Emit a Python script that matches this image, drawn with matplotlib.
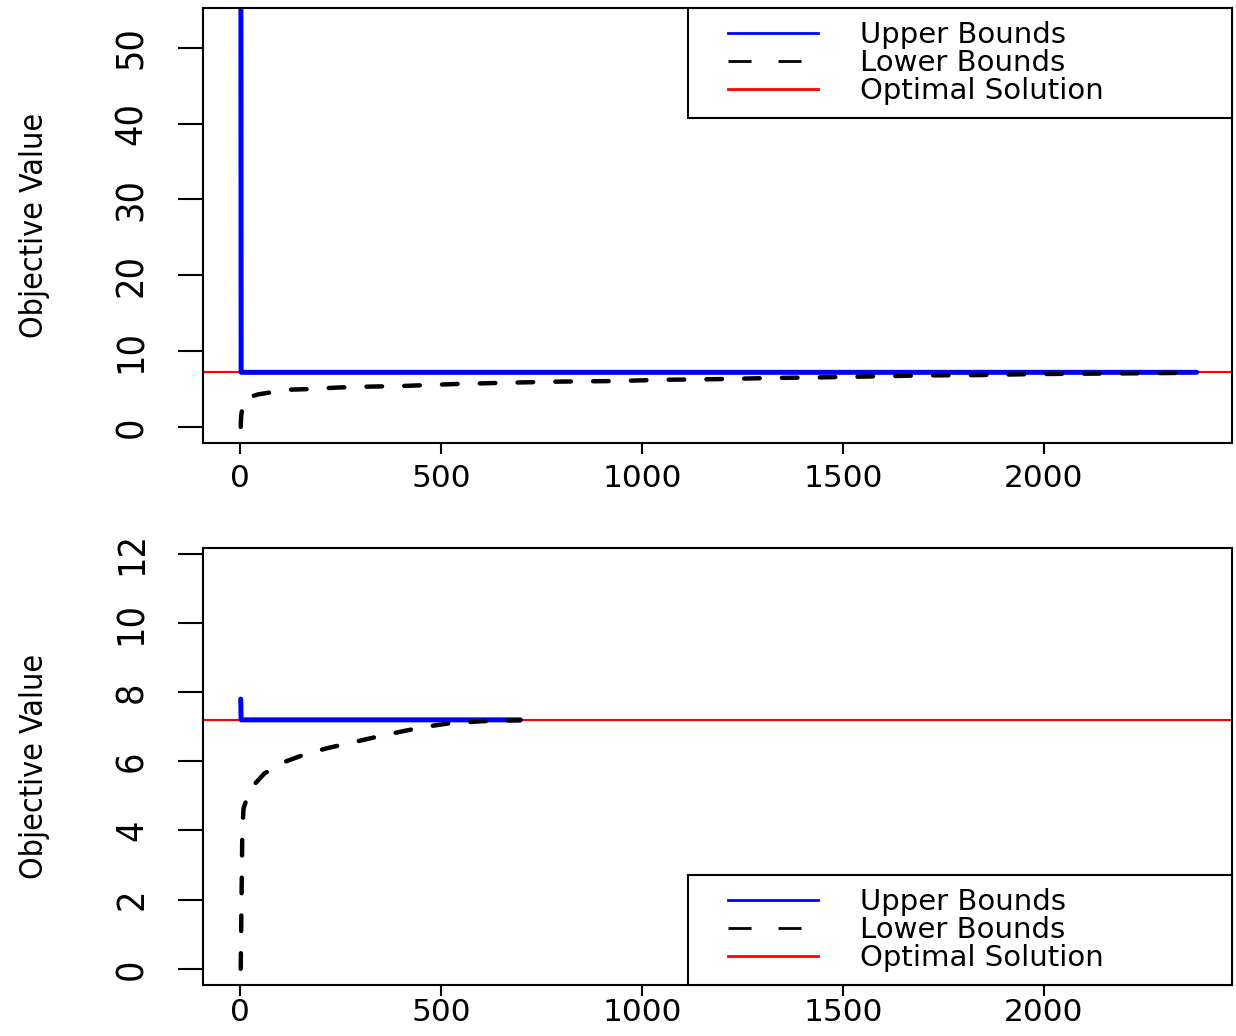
import matplotlib
matplotlib.use('Agg')
import matplotlib.pyplot as plt
from matplotlib.lines import Line2D
from matplotlib.legend_handler import HandlerLine2D

# ---------------- data ----------------
optimal_value = 7.2

top_ub_iter = [1, 2, 2380]
top_ub_val = [100.0, 7.2, 7.2]
top_lb_iter = [1, 2, 7, 20, 45, 117, 174, 244, 306, 404, 535, 665, 796, 928,
               1057, 1186, 1318, 1450, 1580, 1709, 1841, 1973, 2100, 2231, 2380]
top_lb_val = [0.0, 1.4, 3.3, 3.9, 4.3, 4.9, 5.0, 5.2, 5.3, 5.4, 5.66, 5.83, 5.98, 6.05,
              6.22, 6.3, 6.45, 6.54, 6.67, 6.8, 6.84, 6.97, 7.02, 7.07, 7.15]

bot_ub_iter = [1, 2, 697]
bot_ub_val = [7.8, 7.2, 7.2]
bot_lb_iter = [1, 3, 5, 8, 20, 37, 60, 107, 160, 216, 280, 336, 400, 455, 520, 600, 697]
bot_lb_val = [0.0, 2.0, 4.0, 4.64, 5.05, 5.36, 5.65, 5.97, 6.2, 6.38, 6.55, 6.70, 6.86,
              6.99, 7.1, 7.16, 7.19]

x_ticks = [0, 500, 1000, 1500, 2000]
top_y_ticks = [0, 10, 20, 30, 40, 50]
bot_y_ticks = [0, 2, 4, 6, 8, 10, 12]
legend_labels = ["Upper Bounds", "Lower Bounds", "Optimal Solution"]
y_label = "Objective Value"

# ---------------- figure ----------------
fig = plt.figure(figsize=(12.36, 10.36), dpi=100)
ax1 = fig.add_axes([0.1642, 0.5724, 0.8326, 0.4199])
ax2 = fig.add_axes([0.1642, 0.0492, 0.8326, 0.4218])

narrow = ['Liberation Sans Narrow', 'DejaVu Sans', 'Liberation Sans']
wide = ['DejaVu Sans']

FS_LEG = 21
fs_px = FS_LEG * 100 / 72.0
bp = 0.45
left_box = 688
hstart = left_box + bp * fs_px
handlelength = (818 - hstart) / fs_px
xpad = (728 - hstart) / fs_px
handletextpad = (860 - 818) / fs_px


def draw(ax, ub_i, ub_v, lb_i, lb_v, ylim, yticks, loc, xpad_pt):
    ax.axhline(optimal_value, color='red', lw=1.5, zorder=1)
    ax.plot(ub_i, ub_v, color='blue', lw=3.6, solid_capstyle='round',
            solid_joinstyle='round', zorder=2)
    ax.plot(lb_i, lb_v, color='black', lw=3.2, dashes=(3.5, 5.0),
            dash_capstyle='round', zorder=3)
    ax.set_xlim(-93, 2468)
    ax.set_ylim(*ylim)
    ax.set_xticks(x_ticks)
    ax.set_xticklabels([str(t) for t in x_ticks], family=wide, fontsize=22.5)
    ax.set_yticks(yticks)
    ax.set_yticklabels([str(t) for t in yticks], family=narrow, fontsize=27,
                       fontstretch='condensed', rotation=90, va='center')
    ax.tick_params(axis='x', length=8, width=1.5, pad=xpad_pt, direction='out')
    ax.tick_params(axis='y', length=18, width=1.5, pad=20, direction='out')
    for s in ax.spines.values():
        s.set_linewidth(1.5)
        s.set_color('black')
    ax.set_ylabel(y_label, family=narrow, fontsize=23, fontstretch='condensed')
    ax.yaxis.set_label_coords((50 - 203) / 1029.0, 0.5)

    handles = [Line2D([], [], color='blue', lw=2),
               Line2D([], [], color='black', lw=2, dashes=(8.3, 9.7)),
               Line2D([], [], color='red', lw=2)]
    leg = ax.legend(handles, legend_labels, loc=loc,
                    bbox_to_anchor=((left_box - 203) / 1029.0, 0, 1 - (left_box - 203) / 1029.0, 1),
                    mode='expand', borderaxespad=0, fancybox=False, framealpha=1,
                    edgecolor='black', prop={'family': wide, 'size': FS_LEG},
                    borderpad=bp, labelspacing=0.0, handlelength=handlelength,
                    handletextpad=handletextpad,
                    handler_map={Line2D: HandlerLine2D(xpad=xpad)})
    leg.get_frame().set_linewidth(1.5)
    leg.set_zorder(5)


draw(ax1, top_ub_iter, top_ub_val, top_lb_iter, top_lb_val, (-2.12, 55.26),
     top_y_ticks, 'upper right', 7)
draw(ax2, bot_ub_iter, bot_ub_val, bot_lb_iter, bot_lb_val, (-0.47, 12.17),
     bot_y_ticks, 'lower right', 1.5)

fig.savefig('out.png', dpi=100)
